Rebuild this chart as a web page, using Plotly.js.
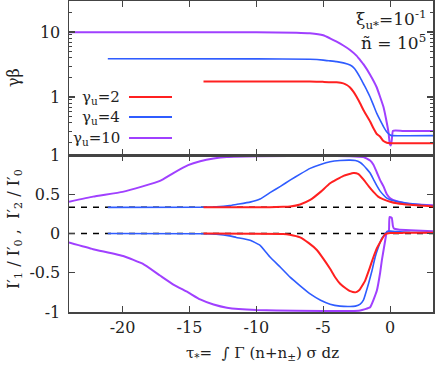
<!DOCTYPE html>
<html>
<head>
<meta charset="utf-8">
<script src="https://cdn.plot.ly/plotly-3.0.1.min.js"></script>
<style>
html,body{margin:0;padding:0;background:#fff;}
#chart{width:436px;height:366px;}
</style>
</head>
<body>
<div id="chart"></div>
<script>
// ---- data ----
const seriesNames = ['γ<sub>u</sub>=2', 'γ<sub>u</sub>=4', 'γ<sub>u</sub>=10'];
const seriesColors = ['#ff2020', '#2f5cff', '#a040ff'];

// top panel: gamma*beta
const gb2_x = [-13.95, -6, -5, -4, -3.5, -3.24, -3, -2.75, -2.5, -2.25, -2, -1.5, -1.25, -1, -0.75, -0.5, -0.25, 0, 3.2];
const gb2_y = [1.74, 1.73, 1.71, 1.68, 1.62, 1.53, 1.4, 1.21, 1.0, 0.8, 0.63, 0.42, 0.33, 0.27, 0.245, 0.21, 0.198, 0.195, 0.194];
const gb4_x = [-21.1, -10, -6, -5, -4.5, -4, -3.5, -3, -2.75, -2.5, -2.25, -2, -1.75, -1.5, -1.25, -1, -0.75, -0.5, -0.25, 0, 0.1, 3.2];
const gb4_y = [3.87, 3.86, 3.8, 3.7, 3.6, 3.5, 3.35, 3.1, 2.85, 2.45, 2.0, 1.6, 1.28, 1.0, 0.75, 0.56, 0.44, 0.35, 0.29, 0.26, 0.255, 0.255];
const gb10_x = [-24, -10, -7, -6, -5, -4.5, -4, -3.5, -3, -2.5, -2.24, -2, -1.5, -1, -0.75, -0.5, -0.3, -0.12, -0.03, 0.05, 0.12, 0.2, 0.4, 1, 3.2];
const gb10_y = [9.95, 9.9, 9.75, 9.55, 8.9, 8.0, 7.1, 6.2, 5.3, 4.3, 3.7, 3.2, 2.2, 1.4, 1.0, 0.7, 0.45, 0.28, 0.19, 0.18, 0.22, 0.3, 0.305, 0.3, 0.3];

// bottom panel: I2'/I0' (upper) and I1'/I0' (lower)
const i2_2_x = [-13.95, -9, -8, -7.48, -6.73, -5.98, -5.2, -4.49, -3.49, -2.74, -2.4, -2, -1.6, -1.25, -0.9, -0.5, 0, 0.5, 1.5, 3.2];
const i2_2_y = [0.333, 0.335, 0.34, 0.345, 0.37, 0.427, 0.53, 0.64, 0.735, 0.77, 0.76, 0.69, 0.6, 0.53, 0.47, 0.435, 0.405, 0.385, 0.365, 0.345];
const i1_2_x = [-13.95, -8, -7.5, -6.73, -6.1, -5.48, -5, -4.49, -4.1, -3.74, -3.3, -2.99, -2.6, -2.3, -1.87, -1.55, -1.25, -1, -0.75, -0.37, 0, 1, 3.2];
const i1_2_y = [0, -0.005, -0.015, -0.05, -0.12, -0.21, -0.32, -0.45, -0.56, -0.64, -0.7, -0.735, -0.75, -0.72, -0.6, -0.45, -0.3, -0.19, -0.11, -0.01, 0.005, 0.008, 0.008];

const i2_4_x = [-21.1, -14, -13, -12, -11.5, -10.47, -9.72, -8.98, -8.2, -7.48, -6.7, -5.98, -5.2, -4.49, -3.75, -3, -2.6, -2.24, -2, -1.74, -1.5, -1.25, -1, -0.75, -0.5, -0.25, 0, 0.75, 1.5, 3.2];
const i2_4_y = [0.333, 0.335, 0.34, 0.355, 0.37, 0.40, 0.44, 0.52, 0.6, 0.68, 0.76, 0.83, 0.88, 0.914, 0.93, 0.935, 0.93, 0.905, 0.87, 0.82, 0.77, 0.69, 0.61, 0.54, 0.49, 0.45, 0.43, 0.40, 0.38, 0.35];
const i1_4_x = [-21.1, -14, -13, -12, -11.5, -10.47, -9.72, -8.98, -8.2, -7.48, -6.7, -5.98, -5.2, -4.49, -3.75, -3, -2.6, -2.24, -2, -1.62, -1.37, -1.12, -0.87, -0.62, -0.4, -0.25, 0, 0.5, 1.5, 3.2];
const i1_4_y = [0, -0.003, -0.01, -0.03, -0.05, -0.086, -0.15, -0.3, -0.43, -0.556, -0.67, -0.77, -0.85, -0.9, -0.925, -0.93, -0.925, -0.9, -0.85, -0.64, -0.48, -0.3, -0.17, -0.06, -0.01, 0.02, 0.03, 0.025, 0.015, 0.01];

const i2_10_x = [-24, -22.2, -20, -18.5, -17.2, -16.2, -15.1, -14.2, -13.2, -12.2, -10, -5, -3, -2, -1.5, -1.25, -1, -0.75, -0.5, -0.25, 0, 0.5, 1, 2, 3.2];
const i2_10_y = [0.405, 0.47, 0.53, 0.6, 0.67, 0.77, 0.87, 0.92, 0.955, 0.975, 0.985, 0.988, 0.985, 0.975, 0.93, 0.875, 0.78, 0.68, 0.6, 0.5, 0.45, 0.41, 0.39, 0.37, 0.36];
const i1_10_x = [-24, -22.2, -19.9, -18.5, -17.2, -16.2, -15.1, -14.2, -13.2, -12.2, -10, -7, -3, -2.24, -1.5, -1, -0.75, -0.62, -0.37, -0.25, -0.1, -0.05, 0.12, 0.2, 0.28, 0.6, 1.5, 3.2];
const i1_10_y = [-0.115, -0.2, -0.29, -0.385, -0.535, -0.65, -0.75, -0.84, -0.905, -0.945, -0.975, -0.985, -0.988, -0.98, -0.94, -0.73, -0.5, -0.34, -0.086, 0.02, 0.03, 0.21, 0.2, 0.1, 0.064, 0.05, 0.04, 0.03];

const refLevels = [0, 1/3];
const xRange = [-24, 3.2];

const xTickVals = [-20, -15, -10, -5, 0];
const xTickText = ['-20', '-15', '-10', '-5', '0'];
const yBotTickVals = [-1, -0.5, 0, 0.5, 1];
const yBotTickText = ['-1', '-0.5', '0', '0.5', '1'];
const yTopTickVals = [1, 10];
const yTopTickText = ['1', '10'];
const yTopMinor = [0.2, 0.3, 0.4, 0.5, 0.6, 0.7, 0.8, 0.9, 2, 3, 4, 5, 6, 7, 8, 9, 20, 30];

// ---- styling ----
const FONT = 'DejaVu Serif';
const AX = '#444';
const W = 436, H = 366, ML = 69, MR = 3, MT = 1, MB = 54;
const PW = W - ML - MR, PH = H - MT - MB;
const px = v => (v - ML) / PW;
const py = v => (H - MB - v) / PH;
const split = py(155);

const traces = [];
refLevels.forEach(v => traces.push({
  x: xRange, y: [v, v], xaxis: 'x', yaxis: 'y', mode: 'lines',
  line: {color: '#000', width: 1.5, dash: '6px,6px'}, hoverinfo: 'skip', showlegend: false
}));
const lw = [2, 1.6, 2];
const topX = [gb2_x, gb4_x, gb10_x], topY = [gb2_y, gb4_y, gb10_y];
const upX = [i2_2_x, i2_4_x, i2_10_x], upY = [i2_2_y, i2_4_y, i2_10_y];
const loX = [i1_2_x, i1_4_x, i1_10_x], loY = [i1_2_y, i1_4_y, i1_10_y];
[2, 1, 0].forEach(i => {
  const base = {mode: 'lines', line: {color: seriesColors[i], width: lw[i], shape: 'spline', smoothing: 0.35}, showlegend: false};
  traces.push(Object.assign({}, base, {x: topX[i], y: topY[i], xaxis: 'x2', yaxis: 'y2', name: seriesNames[i]}));
  traces.push(Object.assign({}, base, {x: upX[i], y: upY[i], xaxis: 'x', yaxis: 'y'}));
  traces.push(Object.assign({}, base, {x: loX[i], y: loY[i], xaxis: 'x', yaxis: 'y'}));
});

const axCommon = {
  showline: true, linecolor: AX, linewidth: 1.5, mirror: 'ticks', ticks: 'inside',
  ticklen: 6, tickwidth: 1.2, tickcolor: AX, showgrid: false, zeroline: false,
  tickfont: {family: FONT, size: 16, color: '#222'}
};

const annotations = [];
const shapes = [];
// legend (text left, line right)
const legY = [97, 117, 138];
[0, 1, 2].forEach(i => {
  annotations.push({xref: 'paper', yref: 'paper', x: px(122), y: py(legY[i]), xanchor: 'right', yanchor: 'middle',
    text: seriesNames[i], showarrow: false, font: {family: FONT, size: 15, color: '#222'}});
  shapes.push({type: 'line', xref: 'paper', yref: 'paper', x0: px(129), x1: px(172), y0: py(legY[i]), y1: py(legY[i]),
    line: {color: seriesColors[i], width: 2}});
});
annotations.push({xref: 'paper', yref: 'paper', x: px(428), y: py(20), xanchor: 'right', yanchor: 'middle',
  text: 'ξ<sub>u*</sub>=10<sup>-1</sup>', showarrow: false, font: {family: FONT, size: 17, color: '#222'}});
annotations.push({xref: 'paper', yref: 'paper', x: px(428), y: py(42), xanchor: 'right', yanchor: 'middle',
  text: 'ñ = 10<sup>5</sup>', showarrow: false, font: {family: FONT, size: 17, color: '#222'}});
annotations.push({xref: 'paper', yref: 'paper', x: px(14), y: py(78), xanchor: 'center', yanchor: 'middle', textangle: -90,
  text: 'γβ', showarrow: false, font: {family: FONT, size: 16, color: '#222'}});
annotations.push({xref: 'paper', yref: 'paper', x: px(14), y: py(229), xanchor: 'center', yanchor: 'middle', textangle: -90,
  text: 'I′<sub>1</sub> / I′<sub>0</sub> ,  I′<sub>2</sub> / I′<sub>0</sub>', showarrow: false, font: {family: FONT, size: 16, color: '#222'}});
annotations.push({xref: 'paper', yref: 'paper', x: px(262), y: py(353), xanchor: 'center', yanchor: 'middle',
  text: 'τ<sub>*</sub>=  ∫ Γ (n+n<sub>±</sub>) σ dz', showarrow: false, font: {family: FONT, size: 15, color: '#222'}});

const layout = {
  width: W, height: H,
  margin: {l: ML, r: MR, t: MT, b: MB, pad: 0},
  paper_bgcolor: '#fff', plot_bgcolor: '#fff',
  showlegend: false,
  font: {family: FONT, size: 16, color: '#222'},
  xaxis: Object.assign({}, axCommon, {domain: [0, 1], anchor: 'y', range: xRange, tickmode: 'array', tickvals: xTickVals, ticktext: xTickText}),
  xaxis2: Object.assign({}, axCommon, {domain: [0, 1], anchor: 'y2', matches: 'x', range: xRange, tickmode: 'array', tickvals: xTickVals, showticklabels: false}),
  yaxis: Object.assign({}, axCommon, {domain: [0, split], anchor: 'x', range: [-1, 1], tickmode: 'array', tickvals: yBotTickVals, ticktext: yBotTickText, ticklabelstandoff: 4}),
  yaxis2: Object.assign({}, axCommon, {domain: [split, 1], anchor: 'x2', type: 'log', range: [-0.892, 1.477], tickmode: 'array', tickvals: yTopTickVals, ticktext: yTopTickText, ticklabelstandoff: 4,
    minor: {tickmode: 'array', tickvals: yTopMinor, ticks: 'inside', ticklen: 3, tickwidth: 1, tickcolor: AX}}),
  annotations: annotations,
  shapes: shapes
};

Plotly.newPlot('chart', traces, layout, {staticPlot: true, displayModeBar: false});
</script>
</body>
</html>
